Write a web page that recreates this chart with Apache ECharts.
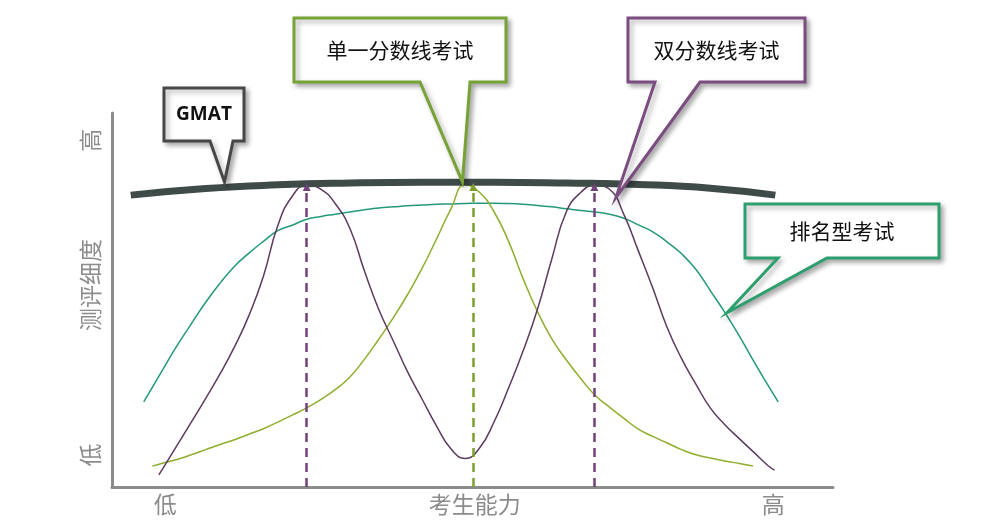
<!DOCTYPE html>
<html>
<head>
<meta charset="utf-8">
<script src="https://cdn.jsdelivr.net/npm/echarts@6/dist/echarts.min.js"></script>
<style>
  html, body { margin: 0; padding: 0; background: #fff; }
  #main { width: 994px; height: 529px; }
</style>
</head>
<body>
<div id="main"></div>
<script>
// 考生能力 (x, 0-100) vs 测评细度 (y, 0-102)
const gmatX = [2.6, 13, 23, 33, 43, 53, 63, 73, 83, 92];
const gmatY = [79.6, 81.4, 82.4, 82.9, 83.1, 83.1, 82.9, 82.5, 81.5, 79.6];

const rankingX = [4.4, 5, 7, 9, 11, 13, 15, 17, 19, 21, 23, 25, 27, 29, 31, 33, 35, 37, 39, 41, 43, 45, 47, 49,
  51, 53, 55, 57, 59, 61, 63, 65, 67, 69, 71, 73, 75, 77, 79, 81, 83, 85, 87, 89, 91, 92.4];
const rankingY = [23.2, 25.2, 31.9, 38.5, 44.5, 50.4, 55.6, 60.2, 63.8, 67.0, 69.9, 71.4, 73.0, 73.8, 74.4, 75.0, 75.6, 76.1, 76.4, 76.7, 76.9, 77.1, 77.2, 77.3,
  77.4, 77.4, 77.3, 77.1, 76.8, 76.4, 75.9, 75.4, 75.0, 74.4, 73.3, 71.5, 69.6, 66.8, 63.6, 59.3, 53.5, 47.6, 41.2, 34.3, 27.7, 23.2];

const singleX = [5.6, 7, 9, 11, 13, 15, 17, 19, 21, 23, 25, 27, 29, 31, 33, 35, 37, 39, 41, 43, 45, 47, 49,
  51, 53, 55, 57, 59, 61, 63, 65, 67, 69, 71, 73, 75, 77, 79, 81, 83, 85, 87, 88.9];
const singleY = [5.7, 6.5, 7.5, 8.8, 10.2, 11.6, 12.9, 14.4, 15.9, 17.7, 19.6, 21.6, 23.9, 26.6, 30.0, 34.8, 40.3, 46.1, 52.5, 59.6, 67.6, 75.8, 82.4,
  80.3, 75.0, 67.0, 56.9, 47.9, 40.4, 34.7, 29.6, 25.0, 21.8, 18.7, 15.8, 13.8, 12.0, 10.2, 8.8, 7.9, 7.1, 6.4, 5.7];

const doubleX = [6.5, 7, 9, 11, 13, 15, 17, 19, 21, 23, 25, 27, 29, 31, 33, 35, 37, 39, 41, 43, 45, 47, 49,
  51, 53, 55, 57, 59, 61, 63, 65, 67, 69, 71, 73, 75, 77, 79, 81, 83, 85, 87, 89, 91, 91.9];
const doubleY = [3.3, 4.9, 11.3, 17.7, 24.2, 30.9, 38.3, 46.8, 57.5, 71.3, 79.3, 82.3, 81.2, 77.2, 70.5, 59.0, 48.4, 39.9, 31.4, 24.0, 16.7, 10.4, 7.8,
  10.7, 17.8, 27.0, 37.0, 48.4, 62.2, 75.0, 80.3, 82.3, 81.2, 74.3, 64.4, 54.3, 43.5, 35.0, 28.0, 21.5, 17.0, 13.2, 9.5, 5.8, 4.6];

const singleCut = [50.1];
const doubleCuts = [27.0, 66.9];
const cutTop = 81.8;

const xTickValues = [7.4, 50.3, 91.7];
const xTickLabels = ['低', '考生能力', '高'];
const yTickValues = [8.7, 55.1, 94.6];
const yTickLabels = ['低', '测评细度', '高'];

const calloutNames = ['GMAT', '单一分数线考试', '双分数线考试', '排名型考试'];
const calloutTips = [[15.6, 83.2], [48.6, 83.2], [69.9, 79.0], [85.3, 47.5]];

const FONT = '"Noto Sans CJK SC", "Noto Sans", sans-serif';
const AXIS_GREY = '#8c8c8c';

const zip = (xs, ys) => xs.map((x, i) => [x, ys[i]]);

const chart = echarts.init(document.getElementById('main'));

function cutLines(xs) {
  return xs.map(x => [{ coord: [x, 0] }, { coord: [x, cutTop] }]);
}

function curve(name, data, color, width, z) {
  return {
    name: name, type: 'line', data: data, z: z,
    smooth: 0.5, showSymbol: false,
    lineStyle: { color: color, width: width }
  };
}

const singleSeries = curve('单一分数线考试', zip(singleX, singleY), '#8fae2e', 1.5, 2);
singleSeries.markLine = {
  silent: true, symbol: ['none', 'triangle'], symbolSize: 8,
  label: { show: false },
  lineStyle: { color: '#7d9e2c', width: 2.5, type: [9, 6] },
  data: cutLines(singleCut)
};
const doubleSeries = curve('双分数线考试', zip(doubleX, doubleY), '#5e3a5e', 1.5, 2);
doubleSeries.markLine = {
  silent: true, symbol: ['none', 'triangle'], symbolSize: 8,
  label: { show: false },
  lineStyle: { color: '#73427a', width: 2.5, type: [9, 6] },
  data: cutLines(doubleCuts)
};

const option = {
  animation: false,
  backgroundColor: '#fff',
  grid: { left: 112, right: 161, top: 113, bottom: 42 },
  xAxis: {
    type: 'value', min: 0, max: 100,
    splitLine: { show: false },
    axisTick: { show: false },
    axisLine: { lineStyle: { color: AXIS_GREY, width: 3 } },
    axisLabel: {
      customValues: xTickValues,
      formatter: v => xTickLabels[xTickValues.indexOf(v)],
      color: AXIS_GREY, fontSize: 23, fontFamily: FONT, margin: 6
    }
  },
  yAxis: {
    type: 'value', min: 0, max: 102,
    splitLine: { show: false },
    axisTick: { show: false },
    axisLine: { show: true, lineStyle: { color: AXIS_GREY, width: 3 } },
    axisLabel: {
      customValues: yTickValues,
      formatter: v => yTickLabels[yTickValues.indexOf(v)],
      rotate: 90,
      color: AXIS_GREY, fontSize: 23, fontFamily: FONT, margin: 10
    }
  },
  series: [
    curve('排名型考试', zip(rankingX, rankingY), '#24997a', 1.5, 2),
    singleSeries,
    doubleSeries,
    curve('GMAT', zip(gmatX, gmatY), '#3f4b49', 7, 3)
  ]
};
chart.setOption(option);

// callout boxes: box rect [l, t, r, b], pointer base on the bottom edge [b1, b2]
const boxes = [
  { rect: [164, 88, 244, 141], base: [210, 233], color: '#474747', font: 'bold 19px "Open Sans", "Liberation Sans", sans-serif' },
  { rect: [294, 18, 506, 82], base: [420, 470], color: '#77a236', font: '21px ' + FONT },
  { rect: [628, 18, 805, 82], base: [655, 700], color: '#7b4c80', font: '21px ' + FONT },
  { rect: [745, 204, 939, 258], base: [778, 827], color: '#2d9f6e', font: '21px ' + FONT }
];

const graphic = [];
boxes.forEach((b, i) => {
  const tip = chart.convertToPixel({ gridIndex: 0 }, calloutTips[i]);
  const [l, t, r, bt] = b.rect;
  graphic.push({
    type: 'polygon', z: 100,
    shape: { points: [[l, t], [r, t], [r, bt], [b.base[1], bt], tip, [b.base[0], bt], [l, bt]] },
    style: {
      fill: '#fff', stroke: b.color, lineWidth: 3, lineJoin: 'miter',
      shadowBlur: 5, shadowOffsetX: 3, shadowOffsetY: 3, shadowColor: 'rgba(0,0,0,0.3)'
    }
  });
  graphic.push({
    type: 'text', z: 101,
    x: (l + r) / 2, y: (t + bt) / 2,
    style: { text: calloutNames[i], font: b.font, fill: '#111', align: 'center', verticalAlign: 'middle' }
  });
});
chart.setOption({ graphic: graphic });
</script>
</body>
</html>
